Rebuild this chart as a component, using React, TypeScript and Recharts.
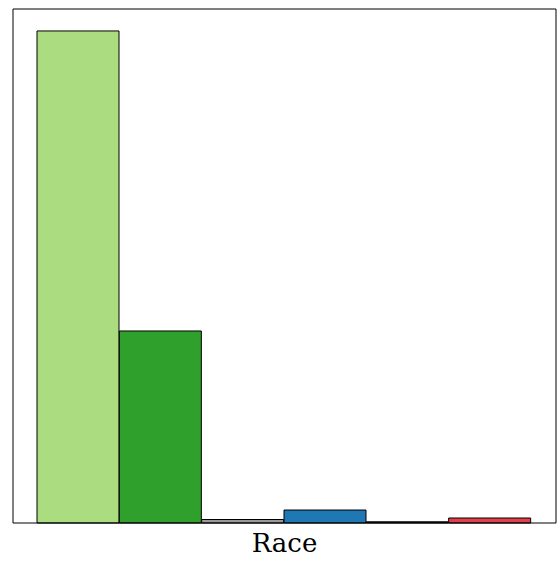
import { Bar, BarChart, Cell, Label, XAxis, YAxis } from "recharts";

// Category order as drawn, left to right
const races = ["White", "Black", "Other", "Asian", "Native", "Hispanic"];
const counts = [4930, 1924, 35, 130, 12, 50];
const barColors = ["#abdd80", "#2fa02c", "#9a9a9a", "#1f78b4", "#222222", "#e0404c"];
const yMax = 5150;

const data = races.map((race, i) => ({ race, count: counts[i] }));

export default function App() {
  // absolute so the page never grows scrollbars
  return (
    <div style={{ position: "absolute", left: 8, top: 8, width: 550, height: 554 }}>
      <BarChart
        width={550}
        height={554}
        data={data}
        margin={{ top: 0, right: 1, bottom: 0, left: 4 }}
        barCategoryGap={0}
        style={{ fontFamily: "DejaVu Serif" }}
      >
        <XAxis
          xAxisId="bottom"
          dataKey="race"
          height={39}
          tick={false}
          tickLine={false}
          axisLine={{ stroke: "#000", strokeWidth: 1 }}
          padding={{ left: 24, right: 25 }}
        >
          <Label
            value="Race"
            position="insideBottom"
            offset={10}
            style={{ fontSize: 26, fill: "#000", fontFamily: "DejaVu Serif" }}
          />
        </XAxis>
        <XAxis
          xAxisId="top"
          orientation="top"
          dataKey="race"
          height={1}
          tick={false}
          tickLine={false}
          axisLine={{ stroke: "#000", strokeWidth: 1 }}
        />
        <YAxis
          yAxisId="left"
          width={1}
          domain={[0, yMax]}
          tick={false}
          tickLine={false}
          axisLine={{ stroke: "#000", strokeWidth: 1 }}
        />
        <YAxis
          yAxisId="right"
          orientation="right"
          width={1}
          domain={[0, yMax]}
          tick={false}
          tickLine={false}
          axisLine={{ stroke: "#000", strokeWidth: 1 }}
        />
        <Bar
          dataKey="count"
          xAxisId="bottom"
          yAxisId="left"
          stroke="#000"
          strokeWidth={1}
          isAnimationActive={false}
        >
          {data.map((d, i) => (
            <Cell key={d.race} fill={barColors[i]} />
          ))}
        </Bar>
      </BarChart>
    </div>
  );
}
